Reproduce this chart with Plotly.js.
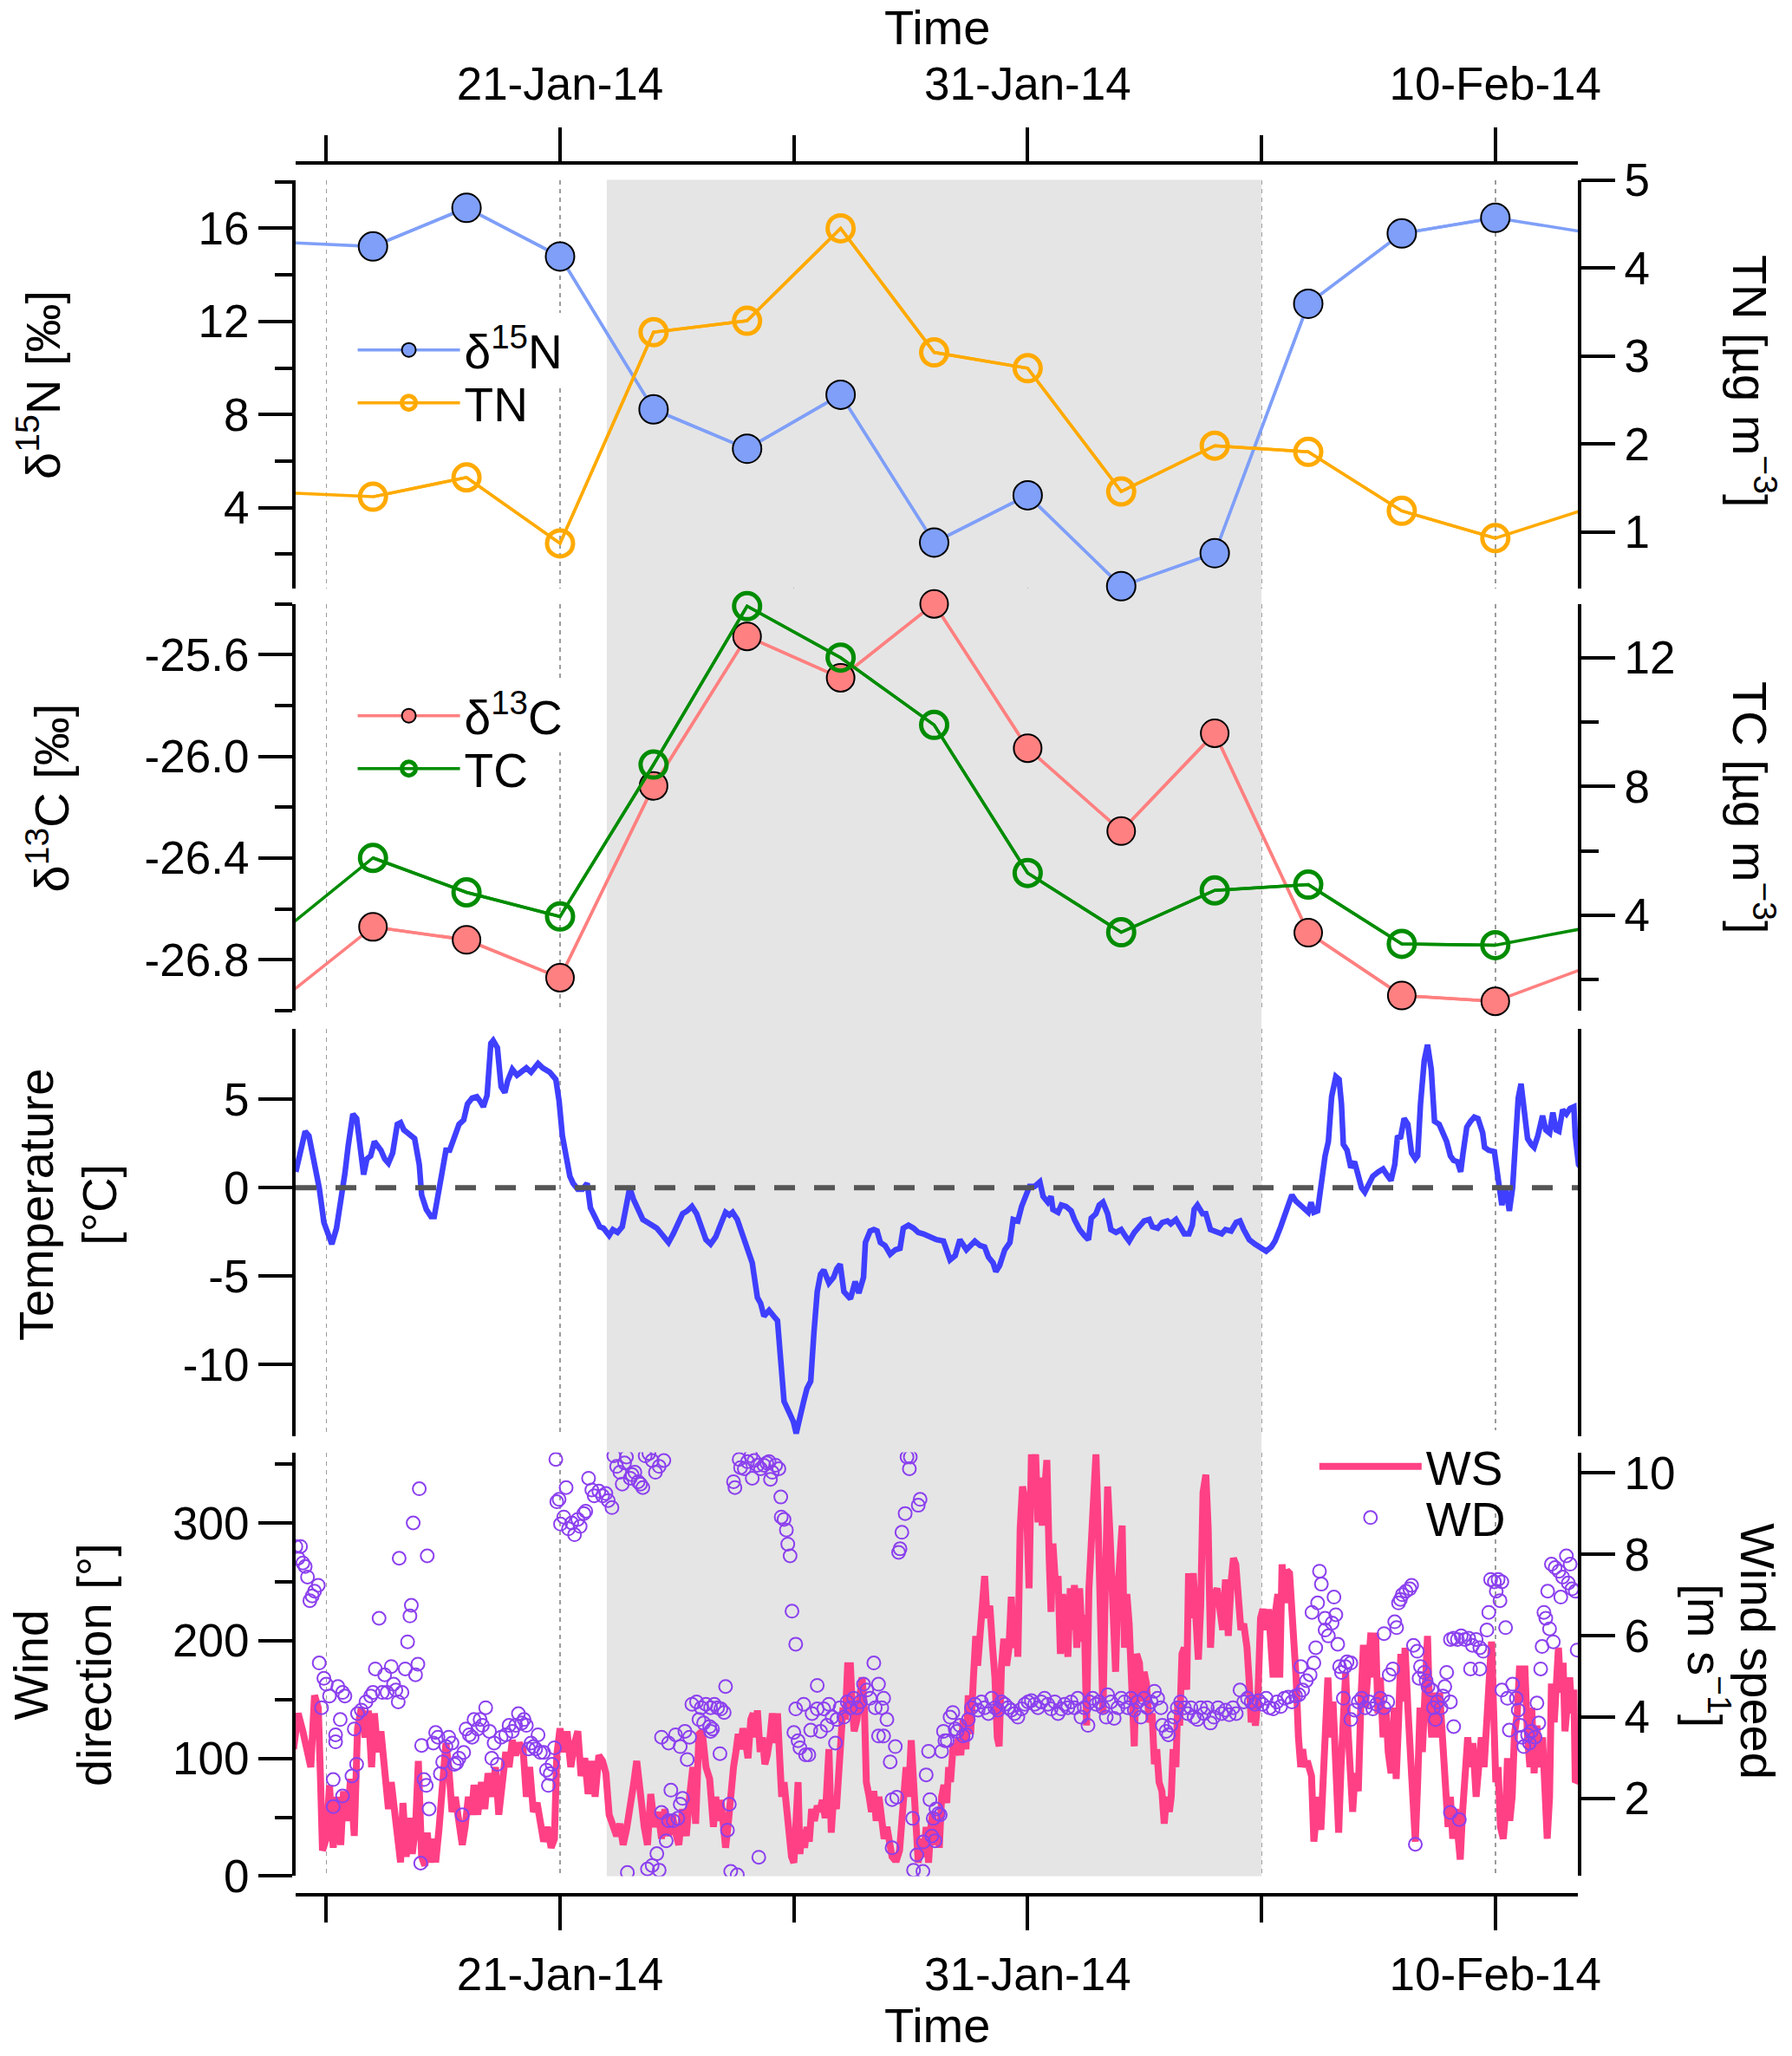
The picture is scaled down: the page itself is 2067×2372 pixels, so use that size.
<!DOCTYPE html>
<html><head><meta charset="utf-8">
<script src="https://cdn.plot.ly/plotly-3.0.1.min.js"></script>
<style>html,body{margin:0;padding:0;background:#fff}</style>
</head><body><div id="chart" style="width:2067px;height:2372px"></div>
<script>
// ---------------- DATA ----------------
const sampleDates = ['2014-01-15','2014-01-17','2014-01-19','2014-01-21','2014-01-23','2014-01-25','2014-01-27','2014-01-29','2014-01-31','2014-02-02','2014-02-04','2014-02-06','2014-02-08','2014-02-10','2014-02-12'];
const d15N = [15.40,15.22,16.88,14.79,8.22,6.53,8.85,2.50,4.53,0.62,2.04,12.76,15.78,16.45,15.81];
const TN   = [1.45,1.40,1.62,0.87,3.27,3.40,4.45,3.04,2.86,1.46,1.98,1.91,1.24,0.93,1.27];
const d13C = [-26.963,-26.671,-26.722,-26.871,-26.116,-25.528,-25.691,-25.40,-25.968,-26.294,-25.909,-26.694,-26.941,-26.964,-26.827];
const TC   = [3.43,5.78,4.71,3.96,8.68,13.6,12.0,9.91,5.31,3.47,4.77,4.95,3.11,3.07,3.62];

// [day of January 2014 (32 = 1 Feb), value]
const temperature = [[15.35,0.90],[15.55,3.19],[15.63,2.94],[15.75,1.47],[15.85,0],[15.95,-1.96],[16.05,-2.78],[16.12,-3.19],[16.22,-2.29],[16.30,-0.98],[16.40,0.82],[16.47,2.37],[16.57,4.17],[16.65,3.92],[16.73,2.29],[16.80,0.74],[16.87,1.63],[16.95,1.80],[17.03,2.61],[17.10,2.37],[17.17,2.12],[17.25,1.63],[17.33,1.39],[17.42,1.96],[17.52,3.59],[17.59,3.68],[17.66,3.27],[17.74,3.10],[17.82,2.94],[17.89,2.78],[17.99,1.31],[18.04,-0.41],[18.14,-1.23],[18.24,-1.63],[18.31,-1.63],[18.39,-0.33],[18.49,1.47],[18.56,2.12],[18.64,2.12],[18.74,2.78],[18.84,3.59],[18.94,3.84],[19.02,4.74],[19.12,5.07],[19.22,5.15],[19.29,4.90],[19.36,4.58],[19.44,5.23],[19.52,8.17],[19.57,8.33],[19.66,7.92],[19.74,5.72],[19.82,5.39],[19.88,6.05],[19.98,6.70],[20.08,6.37],[20.18,6.54],[20.28,6.78],[20.38,6.54],[20.53,7.03],[20.63,6.78],[20.78,6.54],[20.91,6.13],[20.98,4.90],[21.05,2.94],[21.13,1.63],[21.21,0.65],[21.28,0.25],[21.38,-0.08],[21.48,-0.08],[21.58,0.25],[21.65,-1.14],[21.76,-1.80],[21.85,-2.21],[21.93,-2.29],[22.05,-2.70],[22.13,-2.37],[22.23,-2.53],[22.33,-2.21],[22.42,-0.82],[22.49,0.00],[22.57,-0.65],[22.67,-1.31],[22.77,-1.80],[22.87,-1.96],[22.97,-2.12],[23.07,-2.29],[23.17,-2.61],[23.32,-3.10],[23.42,-2.61],[23.52,-1.96],[23.62,-1.47],[23.72,-1.31],[23.82,-1.06],[23.92,-1.47],[24.02,-2.29],[24.12,-2.94],[24.22,-3.19],[24.33,-2.78],[24.44,-2.04],[24.54,-1.39],[24.62,-1.55],[24.69,-1.39],[24.79,-1.80],[24.90,-2.61],[25.01,-3.51],[25.11,-4.25],[25.22,-6.21],[25.29,-6.54],[25.36,-7.27],[25.47,-6.94],[25.57,-7.27],[25.65,-7.52],[25.72,-9.80],[25.79,-12.09],[25.89,-12.66],[25.99,-13.24],[26.05,-13.9],[26.11,-13.07],[26.21,-12.09],[26.28,-11.36],[26.36,-10.95],[26.43,-8.17],[26.50,-5.88],[26.57,-4.90],[26.64,-4.66],[26.75,-5.39],[26.85,-5.07],[26.92,-4.58],[26.99,-4.33],[27.07,-5.88],[27.14,-6.05],[27.21,-6.29],[27.31,-5.31],[27.39,-5.96],[27.49,-5.07],[27.53,-3.10],[27.63,-2.45],[27.71,-2.37],[27.78,-2.45],[27.85,-3.10],[27.95,-3.27],[28.06,-3.76],[28.17,-3.51],[28.27,-3.43],[28.34,-2.29],[28.45,-2.12],[28.56,-2.29],[28.66,-2.53],[28.77,-2.61],[28.91,-2.78],[29.05,-2.94],[29.20,-3.02],[29.34,-4.08],[29.45,-3.84],[29.55,-2.94],[29.69,-3.51],[29.87,-3.02],[29.98,-3.27],[30.08,-3.35],[30.16,-3.92],[30.26,-4.25],[30.32,-4.74],[30.40,-4.41],[30.51,-3.51],[30.62,-3.10],[30.69,-1.80],[30.79,-1.88],[30.87,-1.06],[30.94,-0.57],[31.04,0.08],[31.15,0.08],[31.26,0.33],[31.33,-0.49],[31.43,-0.82],[31.50,-0.49],[31.54,-1.23],[31.65,-1.39],[31.72,-0.98],[31.82,-1.06],[31.93,-1.31],[32.00,-1.80],[32.11,-2.37],[32.21,-2.70],[32.30,-2.94],[32.36,-1.72],[32.46,-1.47],[32.53,-0.98],[32.61,-0.82],[32.71,-1.47],[32.78,-2.37],[32.89,-2.53],[33.00,-2.37],[33.10,-2.78],[33.17,-3.02],[33.28,-2.53],[33.39,-2.12],[33.49,-1.88],[33.60,-1.80],[33.67,-2.21],[33.78,-2.29],[33.88,-1.96],[33.99,-1.88],[34.06,-2.04],[34.17,-1.80],[34.27,-2.21],[34.35,-2.61],[34.45,-2.61],[34.52,-2.12],[34.56,-1.23],[34.63,-0.98],[34.74,-1.47],[34.81,-1.47],[34.91,-2.37],[35.15,-2.61],[35.23,-2.37],[35.35,-2.45],[35.46,-1.96],[35.54,-1.88],[35.62,-2.37],[35.74,-2.94],[35.86,-3.19],[35.98,-3.43],[36.10,-3.59],[36.21,-3.35],[36.29,-3.02],[36.41,-2.21],[36.53,-1.31],[36.65,-0.41],[36.73,-0.74],[36.88,-1.14],[37.00,-1.39],[37.06,-0.82],[37.12,-1.39],[37.20,-1.31],[37.28,0.33],[37.36,1.80],[37.43,2.61],[37.50,5.15],[37.59,6.29],[37.66,6.13],[37.71,4.74],[37.75,2.45],[37.83,2.12],[37.91,1.14],[37.99,1.47],[38.07,0.82],[38.14,0.00],[38.21,-0.25],[38.29,0.16],[38.38,0.65],[38.50,0.90],[38.60,1.06],[38.68,0.74],[38.77,0.41],[38.85,1.31],[38.91,2.94],[38.97,2.78],[39.05,3.92],[39.13,3.59],[39.21,1.96],[39.29,1.63],[39.34,1.80],[39.40,4.74],[39.48,7.19],[39.55,8.09],[39.63,6.70],[39.70,3.76],[39.80,3.59],[39.88,3.10],[39.96,2.61],[40.04,1.80],[40.11,1.55],[40.19,1.47],[40.26,0.90],[40.31,1.96],[40.39,3.43],[40.47,3.76],[40.55,4.00],[40.63,3.92],[40.73,3.10],[40.77,2.29],[40.86,2.12],[40.98,2.04],[41.04,0.90],[41.10,-0.33],[41.14,-0.98],[41.22,0.00],[41.30,-1.31],[41.37,0.00],[41.44,2.94],[41.49,5.07],[41.55,5.88],[41.61,4.58],[41.69,2.78],[41.77,2.45],[41.83,2.29],[41.91,2.94],[42.01,4.08],[42.08,3.27],[42.16,3.10],[42.23,4.25],[42.30,3.27],[42.36,3.19],[42.44,4.41],[42.52,4.17],[42.60,4.49],[42.68,4.58],[42.71,2.94],[42.78,1.31],[42.83,1.14]];

const windSpeed = [[15.30,3.21],[15.40,4.09],[15.50,3.65],[15.60,3.14],[15.67,2.77],[15.75,4.53],[15.83,4.23],[15.88,2.40],[15.92,0.72],[16.00,1.01],[16.07,2.33],[16.15,0.79],[16.23,2.04],[16.31,0.86],[16.37,2.18],[16.45,1.45],[16.52,2.48],[16.60,1.08],[16.67,3.72],[16.75,4.23],[16.83,3.50],[16.90,4.16],[16.97,2.77],[17.03,4.09],[17.10,3.14],[17.17,3.65],[17.25,2.77],[17.33,1.74],[17.39,2.40],[17.46,1.67],[17.54,1.08],[17.59,0.43],[17.64,1.89],[17.71,0.57],[17.78,1.52],[17.84,0.64],[17.91,1.30],[17.97,2.92],[18.04,0.57],[18.11,0.35],[18.16,1.16],[18.22,0.43],[18.29,1.01],[18.34,0.43],[18.41,1.23],[18.49,2.55],[18.56,3.36],[18.62,2.77],[18.69,1.67],[18.76,2.04],[18.84,1.30],[18.91,0.86],[18.97,1.30],[19.04,2.04],[19.11,1.60],[19.16,2.33],[19.24,1.60],[19.32,2.40],[19.39,1.74],[19.46,2.62],[19.54,2.04],[19.62,2.77],[19.69,1.60],[19.76,2.40],[19.84,3.14],[19.91,2.77],[19.98,3.43],[20.05,3.06],[20.13,3.36],[20.21,3.21],[20.28,2.04],[20.35,2.77],[20.43,1.67],[20.51,1.89],[20.58,1.30],[20.65,0.94],[20.73,1.30],[20.81,0.79],[20.88,1.01],[20.93,3.06],[21.00,3.72],[21.08,3.14],[21.15,3.65],[21.23,2.77],[21.31,3.36],[21.38,3.65],[21.45,2.55],[21.53,2.99],[21.60,2.11],[21.68,2.92],[21.75,2.04],[21.83,3.06],[21.91,2.92],[21.98,2.62],[22.05,1.60],[22.13,1.38],[22.21,1.08],[22.28,1.38],[22.35,0.86],[22.42,1.23],[22.49,1.89],[22.57,2.33],[22.64,2.92],[22.72,2.04],[22.80,1.30],[22.87,0.86],[22.94,2.11],[23.02,1.30],[23.10,1.67],[23.17,1.01],[23.24,1.74],[23.32,1.08],[23.40,1.60],[23.47,1.16],[23.54,0.86],[23.62,1.74],[23.70,1.08],[23.77,2.04],[23.84,2.77],[23.90,1.38],[23.97,3.58],[24.04,3.65],[24.12,2.77],[24.20,2.48],[24.28,1.30],[24.33,2.04],[24.38,1.45],[24.44,1.96],[24.49,1.30],[24.54,0.79],[24.59,1.30],[24.65,2.18],[24.71,2.77],[24.76,3.14],[24.81,3.58],[24.86,3.21],[24.91,3.72],[24.97,3.36],[25.02,2.99],[25.08,3.94],[25.13,4.09],[25.18,3.50],[25.22,4.16],[25.28,3.14],[25.33,3.50],[25.38,2.84],[25.43,3.06],[25.49,3.50],[25.54,4.09],[25.59,3.36],[25.65,4.09],[25.70,2.92],[25.74,2.04],[25.79,2.40],[25.84,1.67],[25.90,1.23],[25.95,0.57],[26.00,0.42],[26.04,1.30],[26.09,2.40],[26.13,0.64],[26.18,1.23],[26.23,0.79],[26.28,1.30],[26.33,0.94],[26.38,1.74],[26.44,1.45],[26.50,1.82],[26.55,1.67],[26.61,1.96],[26.67,1.52],[26.71,2.11],[26.75,3.21],[26.80,1.16],[26.85,2.04],[26.91,1.74],[26.96,3.14],[27.01,3.50],[27.05,4.23],[27.10,3.94],[27.15,5.26],[27.21,5.26],[27.25,4.23],[27.29,3.65],[27.35,3.94],[27.41,4.67],[27.46,4.97],[27.51,4.16],[27.55,2.40],[27.61,2.04],[27.66,1.67],[27.71,2.18],[27.76,1.45],[27.82,2.04],[27.88,1.30],[27.93,1.01],[27.99,1.30],[28.05,0.94],[28.10,0.57],[28.15,0.50],[28.20,0.50],[28.26,0.72],[28.31,1.30],[28.36,2.04],[28.40,2.77],[28.45,2.04],[28.51,3.43],[28.56,2.40],[28.61,1.30],[28.66,0.42],[28.71,1.01],[28.77,0.57],[28.83,1.30],[28.88,0.42],[28.93,1.30],[28.97,1.67],[29.02,0.86],[29.07,1.30],[29.11,0.79],[29.16,2.04],[29.21,2.33],[29.27,1.89],[29.31,2.77],[29.35,2.40],[29.41,3.36],[29.47,3.06],[29.52,3.50],[29.57,3.06],[29.62,3.94],[29.68,3.21],[29.73,4.53],[29.78,3.58],[29.84,4.97],[29.89,5.99],[29.93,5.26],[29.98,5.85],[30.03,6.73],[30.08,7.46],[30.13,6.43],[30.19,6.73],[30.25,5.70],[30.30,4.97],[30.35,3.50],[30.39,3.28],[30.44,5.26],[30.49,5.92],[30.55,5.26],[30.60,5.70],[30.65,6.95],[30.70,5.70],[30.76,6.43],[30.79,5.48],[30.84,8.63],[30.89,9.66],[30.94,9.36],[30.99,8.63],[31.03,7.16],[31.08,10.45],[31.11,9.73],[31.17,10.45],[31.22,8.78],[31.27,9.88],[31.31,8.70],[31.36,9.73],[31.41,10.31],[31.46,7.90],[31.50,6.58],[31.54,8.26],[31.60,7.16],[31.65,7.46],[31.70,5.55],[31.75,7.02],[31.81,6.29],[31.86,5.48],[31.91,7.16],[31.95,6.14],[32.00,7.24],[32.05,5.70],[32.11,7.16],[32.17,5.85],[32.21,6.51],[32.26,3.79],[32.31,7.16],[32.36,8.04],[32.41,9.36],[32.46,10.45],[32.51,8.63],[32.55,6.43],[32.61,4.09],[32.66,7.16],[32.71,9.66],[32.76,8.48],[32.82,6.43],[32.88,5.11],[32.93,7.16],[32.97,8.19],[33.02,8.70],[33.07,5.70],[33.12,7.02],[33.17,6.29],[33.23,4.97],[33.28,3.28],[33.33,5.55],[33.39,5.33],[33.44,4.38],[33.49,5.11],[33.54,4.82],[33.60,3.87],[33.66,4.09],[33.71,2.84],[33.76,3.21],[33.81,2.40],[33.87,2.18],[33.92,1.38],[33.97,2.04],[34.03,1.67],[34.07,2.04],[34.11,3.21],[34.17,2.77],[34.21,4.38],[34.25,3.79],[34.30,5.55],[34.35,5.70],[34.40,4.67],[34.44,7.53],[34.49,6.43],[34.54,7.53],[34.59,6.43],[34.65,5.41],[34.70,6.73],[34.75,9.51],[34.81,9.95],[34.86,8.63],[34.91,5.70],[34.96,6.87],[35.05,7.16],[35.11,6.73],[35.17,6.14],[35.23,7.38],[35.29,5.99],[35.35,7.31],[35.40,7.90],[35.45,7.75],[35.50,6.73],[35.56,6.14],[35.62,6.29],[35.69,5.70],[35.74,4.82],[35.78,3.87],[35.83,4.23],[35.87,3.79],[35.92,4.38],[35.98,6.43],[36.03,6.65],[36.10,6.14],[36.15,6.65],[36.21,5.70],[36.25,4.97],[36.30,6.58],[36.35,7.02],[36.39,4.97],[36.44,7.75],[36.49,6.80],[36.54,7.60],[36.60,7.53],[36.65,6.73],[36.69,5.85],[36.74,4.97],[36.79,3.50],[36.84,2.77],[36.88,3.21],[36.93,2.77],[36.98,2.92],[37.02,2.77],[37.07,2.55],[37.12,0.94],[37.17,1.67],[37.21,2.04],[37.27,1.23],[37.32,2.77],[37.37,3.72],[37.42,4.97],[37.47,3.50],[37.53,4.38],[37.59,2.77],[37.65,1.16],[37.70,2.77],[37.75,3.79],[37.80,5.11],[37.84,3.87],[37.89,2.40],[37.95,1.67],[38.00,2.62],[38.07,2.18],[38.13,4.53],[38.18,5.77],[38.22,4.23],[38.29,5.70],[38.34,6.07],[38.38,4.97],[38.44,6.07],[38.49,4.09],[38.54,4.97],[38.60,3.50],[38.66,4.23],[38.71,3.14],[38.77,2.62],[38.84,4.23],[38.88,2.48],[38.93,3.87],[38.98,5.55],[39.03,4.38],[39.07,5.70],[39.13,4.23],[39.18,3.21],[39.23,2.18],[39.29,0.94],[39.34,2.40],[39.39,4.23],[39.44,3.14],[39.50,4.82],[39.55,5.99],[39.59,4.38],[39.64,3.50],[39.70,4.60],[39.76,3.50],[39.81,4.60],[39.88,3.36],[39.94,2.77],[39.99,1.30],[40.04,2.04],[40.09,1.01],[40.15,1.74],[40.19,1.16],[40.25,0.50],[40.30,1.67],[40.35,2.77],[40.41,3.50],[40.47,2.77],[40.52,3.36],[40.59,2.04],[40.65,2.77],[40.70,3.50],[40.76,2.77],[40.82,4.38],[40.88,5.11],[40.92,5.85],[40.97,4.23],[41.01,2.40],[41.06,2.77],[41.11,1.30],[41.17,1.01],[41.22,1.67],[41.26,2.99],[41.31,1.45],[41.36,2.04],[41.41,3.58],[41.47,4.09],[41.52,5.26],[41.57,4.38],[41.63,5.26],[41.69,3.50],[41.74,2.77],[41.78,4.23],[41.83,2.62],[41.89,3.79],[41.94,2.77],[42.01,3.50],[42.05,2.04],[42.11,1.01],[42.16,2.04],[42.20,4.82],[42.26,3.87],[42.30,4.97],[42.35,5.70],[42.40,4.60],[42.45,5.33],[42.49,3.65],[42.54,4.23],[42.59,4.97],[42.64,4.09],[42.68,4.67],[42.71,2.40],[42.75,2.48],[42.79,2.48],[42.85,2.50]];

const windDir = [[15.35,280],[15.45,280],[15.40,270],[15.50,266],[15.55,263],[15.60,254],[15.70,238],[15.65,234],[15.75,242],[15.83,247],[15.85,181],[15.90,143],[15.95,168],[16.00,163],[16.07,153],[16.15,82],[16.20,120],[16.25,161],[16.30,133],[16.35,156],[16.40,153],[16.15,59],[16.35,68],[16.20,114],[16.55,85],[16.60,125],[16.65,95],[16.67,138],[16.75,141],[16.85,148],[16.95,153],[17.00,156],[17.05,176],[17.13,219],[17.20,156],[17.25,171],[17.30,156],[17.39,178],[17.44,163],[17.49,158],[17.54,148],[17.56,270],[17.62,156],[17.69,176],[17.74,199],[17.79,221],[17.82,230],[17.86,300],[17.91,171],[17.96,180],[17.99,329],[18.04,111],[18.09,82],[18.14,77],[18.16,272],[18.20,57],[18.02,11],[18.29,113],[18.34,122],[18.39,118],[18.44,87],[18.49,97],[18.56,110],[18.62,118],[18.69,113],[18.74,95],[18.79,96],[18.84,100],[18.91,52],[18.94,105],[18.99,125],[19.06,120],[19.12,118],[19.16,133],[19.24,125],[19.29,133],[19.34,128],[19.41,143],[19.49,123],[19.54,100],[19.59,113],[19.66,95],[19.74,118],[19.84,120],[19.91,128],[19.98,123],[20.05,128],[20.11,138],[20.18,130],[20.23,133],[20.28,128],[20.33,108],[20.38,113],[20.43,110],[20.48,108],[20.53,120],[20.58,105],[20.65,105],[20.71,90],[20.75,77],[20.79,87],[20.83,95],[20.88,109],[20.91,354],[20.93,318],[20.98,320],[21.01,299],[21.08,305],[21.13,330],[21.18,295],[21.25,300],[21.31,290],[21.38,303],[21.43,297],[21.51,308],[21.55,310],[21.61,338],[21.68,328],[21.73,323],[21.83,327],[21.91,323],[21.98,325],[22.03,319],[22.11,313],[22.15,357],[22.21,348],[22.28,343],[22.33,333],[22.38,351],[22.42,356],[22.50,338],[22.54,341],[22.60,343],[22.67,335],[22.72,333],[22.77,330],[22.82,357],[22.90,359],[22.97,353],[23.04,343],[23.12,348],[23.22,353],[22.44,3],[22.87,6],[22.97,9],[23.07,19],[23.12,5],[23.27,30],[23.17,54],[23.32,47],[23.37,73],[23.42,47],[23.52,49],[23.57,61],[23.62,66],[23.17,118],[23.32,113],[23.47,120],[23.57,110],[23.67,123],[23.72,99],[23.77,118],[23.82,146],[23.92,148],[23.97,133],[24.02,143],[24.07,130],[24.12,146],[24.20,127],[24.22,143],[24.30,146],[24.37,143],[24.44,142],[24.51,139],[24.26,125],[24.22,123],[24.42,104],[24.54,161],[24.62,61],[24.58,39],[24.65,4],[24.79,1],[25.25,16],[24.71,335],[24.74,330],[24.83,354],[24.86,347],[24.94,346],[25.01,352],[25.08,357],[25.11,338],[25.15,353],[25.22,349],[25.29,346],[25.36,349],[25.42,351],[25.47,352],[25.50,337],[25.54,343],[25.61,349],[25.68,346],[25.72,322],[25.73,305],[25.79,303],[25.84,294],[25.87,282],[25.92,272],[25.96,225],[26.04,197],[26.04,142],[26.00,122],[26.09,115],[26.13,109],[26.21,146],[26.25,103],[26.32,103],[26.36,124],[26.39,138],[26.50,162],[26.50,142],[26.57,123],[26.64,142],[26.71,128],[26.75,146],[26.82,135],[26.89,113],[26.92,133],[26.99,143],[27.07,135],[27.14,148],[27.21,143],[27.28,151],[27.35,143],[27.42,148],[27.49,163],[27.56,158],[27.63,151],[27.71,181],[27.74,143],[27.81,163],[27.88,143],[27.92,151],[27.99,133],[27.81,119],[27.92,119],[28.06,97],[28.17,110],[28.10,65],[28.20,67],[28.10,24],[28.24,275],[28.27,278],[28.31,292],[28.38,308],[28.42,356],[28.47,346],[28.49,356],[28.66,315],[28.70,320],[28.54,49],[28.56,5],[28.63,18],[28.76,4],[28.77,29],[28.83,86],[28.88,106],[28.91,65],[28.95,34],[28.98,49],[29.04,57],[29.09,53],[29.13,52],[29.02,30],[29.16,106],[29.20,123],[29.23,115],[29.28,115],[29.34,135],[29.40,139],[29.45,125],[29.49,123],[29.55,128],[29.62,119],[29.69,120],[29.73,133],[29.80,143],[29.87,146],[29.94,141],[30.01,148],[30.08,143],[30.16,138],[30.23,151],[30.30,143],[30.37,141],[30.44,148],[30.51,146],[30.58,143],[30.65,141],[30.72,138],[30.79,135],[30.87,142],[30.94,146],[31.01,148],[31.08,149],[31.15,146],[31.22,143],[31.29,148],[31.36,151],[31.43,146],[31.50,142],[31.58,148],[31.65,138],[31.72,142],[31.79,146],[31.86,143],[31.93,148],[32.00,143],[32.07,151],[32.14,135],[32.21,143],[32.29,128],[32.32,148],[32.39,151],[32.46,146],[32.53,148],[32.61,143],[32.68,135],[32.71,154],[32.78,148],[32.85,134],[32.93,143],[33.00,151],[33.07,148],[33.14,143],[33.21,151],[33.28,141],[33.35,148],[33.42,135],[33.49,151],[33.56,143],[33.64,148],[33.71,157],[33.78,151],[33.85,143],[33.88,128],[33.96,123],[34.01,120],[34.06,128],[34.13,135],[34.20,143],[34.27,148],[34.35,143],[34.42,138],[34.49,143],[34.56,135],[34.63,133],[34.70,143],[34.77,138],[34.84,143],[34.91,130],[34.98,135],[35.07,143],[35.15,138],[35.23,141],[35.31,137],[35.39,143],[35.46,138],[35.54,158],[35.62,148],[35.70,151],[35.78,148],[35.86,146],[35.94,149],[36.02,146],[36.10,151],[36.17,143],[36.25,142],[36.33,148],[36.41,144],[36.49,151],[36.57,152],[36.65,148],[36.73,153],[36.80,154],[36.88,158],[36.84,178],[36.96,166],[37.04,171],[37.12,181],[37.16,194],[37.08,224],[37.20,232],[37.24,259],[37.28,248],[37.36,219],[37.36,209],[37.43,204],[37.51,215],[37.55,237],[37.59,222],[37.63,197],[37.67,178],[37.75,151],[37.71,173],[37.79,178],[37.83,182],[37.91,181],[37.91,133],[37.99,141],[38.07,148],[38.14,151],[38.22,143],[38.30,148],[38.38,142],[38.46,146],[38.54,151],[38.62,143],[38.70,148],[38.62,206],[38.73,171],[38.81,176],[38.85,216],[38.89,211],[38.93,232],[38.97,235],[39.01,239],[39.09,242],[39.17,244],[39.21,247],[39.25,196],[39.33,191],[39.37,168],[39.40,178],[39.48,173],[39.52,166],[39.56,161],[39.64,158],[39.68,143],[39.72,133],[39.76,148],[39.84,143],[39.88,153],[39.92,161],[39.96,173],[40.04,148],[40.11,127],[40.04,201],[40.11,202],[40.19,201],[40.27,204],[40.35,201],[40.43,202],[40.51,196],[40.59,201],[40.67,194],[40.74,191],[40.82,209],[40.86,224],[40.90,252],[40.98,250],[41.06,252],[41.14,250],[41.02,242],[41.10,234],[41.22,211],[40.47,176],[40.67,176],[40.04,54],[40.23,48],[39.29,27],[41.14,158],[41.26,151],[41.30,124],[41.37,163],[41.45,151],[41.49,141],[41.53,128],[41.57,118],[41.61,110],[41.69,120],[41.73,113],[41.77,123],[41.85,118],[41.89,147],[41.93,130],[41.97,176],[42.00,195],[42.04,224],[42.08,219],[42.16,210],[42.24,199],[42.20,265],[42.28,262],[42.36,259],[42.44,254],[42.52,272],[42.56,249],[42.60,265],[42.64,244],[42.71,242],[42.75,192],[42.12,242],[42.40,237]];

const shadeStart = '2014-01-22';
const shadeEnd = '2014-02-05';
const zeroLevel = 0;
const d13CTicks = [-26.8,-26.4,-26.0,-25.6];
const d13CTickText = ['-26.8','-26.4','-26.0','-25.6'];
const d13CMinor = [-27.0,-26.6,-26.2,-25.8,-25.4];
const tempTicks = [-10,-5,0,5];
const tempTickText = ['-10','-5','0','5'];

// axis ranges
const d15NRange = [0.54,18.08], TNRange = [0.362,5];
const d13CRange = [-27.0,-25.4], TCRange = [1.04,13.67];
const tempRange = [-14.05,9.0];
const wsRange = [0.094,10.5], wdRange = [0,360];

// ---------------- BUILD ----------------
const DAY = 86400000;
const T0 = Date.UTC(2013, 11, 31);
function dayToDate(d){ return new Date(T0 + d*DAY).toISOString().replace('T',' ').slice(0,19); }
const xRange = ['2014-01-15 08:18', '2014-02-11 18:22'];
const r0 = Date.parse(xRange[0].replace(' ','T')+':00Z'), r1 = Date.parse(xRange[1].replace(' ','T')+':00Z');
const inIdx = sampleDates.map((d,i)=>i).filter(i=>{const t=Date.parse(sampleDates[i]+'T00:00:00Z'); return t>=r0 && t<=r1;});
const pick = arr => inIdx.map(i=>arr[i]);

const FONT = 'Liberation Sans, Arial, Helvetica, sans-serif';
const BLUE='#7f9ff8', ORANGE='#ffaa00', SALMON='#ff8080', GREEN='#008c00', TBLUE='#3f3fff', PINK='#ff4085', PURPLE='#8b40ee';

const D1=[0.7545,0.9902], D2=[0.5106,0.7454], D3=[0.2649,0.5001], D4=[0.0108,0.2555];

const traces = [
  // panel 1
  {x:sampleDates, y:d15N, xaxis:'x', yaxis:'y6', mode:'lines', line:{color:BLUE,width:3.5}, showlegend:false, hoverinfo:'skip'},
  {x:sampleDates, y:TN, xaxis:'x', yaxis:'y7', mode:'lines', line:{color:ORANGE,width:3.5}, showlegend:false, hoverinfo:'skip'},
  {x:pick(sampleDates), y:pick(d15N), xaxis:'x', yaxis:'y6', mode:'lines+markers', name:'δ<sup>15</sup>N', legend:'legend',
   line:{color:BLUE,width:3.5}, marker:{size:33,color:BLUE,line:{color:'#000',width:2}}, cliponaxis:false},
  {x:pick(sampleDates), y:pick(TN), xaxis:'x', yaxis:'y7', mode:'lines+markers', name:'TN', legend:'legend2',
   line:{color:ORANGE,width:3.5}, marker:{symbol:'circle-open',size:30,color:ORANGE,line:{color:ORANGE,width:5}}, cliponaxis:false},
  // panel 2
  {x:sampleDates, y:d13C, xaxis:'x', yaxis:'y4', mode:'lines', line:{color:SALMON,width:3.5}, showlegend:false, hoverinfo:'skip'},
  {x:sampleDates, y:TC, xaxis:'x', yaxis:'y5', mode:'lines', line:{color:GREEN,width:3.5}, showlegend:false, hoverinfo:'skip'},
  {x:pick(sampleDates), y:pick(d13C), xaxis:'x', yaxis:'y4', mode:'lines+markers', name:'δ<sup>13</sup>C', legend:'legend3',
   line:{color:SALMON,width:3.5}, marker:{size:32,color:SALMON,line:{color:'#000',width:2}}, cliponaxis:false},
  {x:pick(sampleDates), y:pick(TC), xaxis:'x', yaxis:'y5', mode:'lines+markers', name:'TC', legend:'legend4',
   line:{color:GREEN,width:3.5}, marker:{symbol:'circle-open',size:30,color:GREEN,line:{color:GREEN,width:5}}, cliponaxis:false},
  // panel 3
  {x:temperature.map(p=>dayToDate(p[0])), y:temperature.map(p=>p[1]), xaxis:'x', yaxis:'y3', mode:'lines',
   line:{color:TBLUE,width:6.5}, showlegend:false},
  // panel 4
  {x:windSpeed.map(p=>dayToDate(p[0])), y:windSpeed.map(p=>p[1]), xaxis:'x', yaxis:'y', mode:'lines', name:'WS', legend:'legend5',
   line:{color:PINK,width:8}},
  {x:windDir.map(p=>dayToDate(p[0])), y:windDir.map(p=>p[1]), xaxis:'x', yaxis:'y2', mode:'markers', name:'WD', legend:'legend6',
   marker:{symbol:'circle-open',size:15,color:PURPLE,line:{color:PURPLE,width:2}}},
  // top axis carrier
  {x:[xRange[0]], y:[null], xaxis:'x2', yaxis:'y6', mode:'markers', showlegend:false, hoverinfo:'skip'}
];

const GRID = '#9c9c9c';
const TICKFONT = {size:53,color:'#000',family:FONT};
const xCommon = {
  type:'date', range:xRange, domain:[0,1], anchor:'free',
  showline:true, linecolor:'#000', linewidth:4, ticks:'outside', ticklen:39, tickwidth:4, tickcolor:'#000',
  tick0:'2014-01-21', dtick:10*DAY, tickformat:'%d-%b-%y', tickfont:TICKFONT,
  zeroline:false, fixedrange:true
};
const yCommon = {
  showline:true, linecolor:'#000', linewidth:4, ticks:'outside', ticklen:39, tickwidth:4, tickcolor:'#000',
  tickfont:TICKFONT, showgrid:false, zeroline:false, anchor:'x', fixedrange:true
};
const minorY = (o)=>Object.assign({ticks:'outside', ticklen:20, tickwidth:4, tickcolor:'#000', showgrid:false}, o);
const LEGFONT = {size:55,family:FONT,color:'#000'};
const leg = (x,y,bg)=>({x:x, y:y, xanchor:'left', yanchor:'middle', bgcolor:bg, borderwidth:0, font:LEGFONT, itemwidth:118, tracegroupgap:0});
const TITLEFONT = {size:56};

const layout = {
  width:2067, height:2372, autosize:false,
  margin:{l:341, r:247, t:188, b:186, pad:0},
  paper_bgcolor:'#fff', plot_bgcolor:'rgba(0,0,0,0)',
  font:{family:FONT, color:'#000', size:50},
  xaxis:Object.assign({}, xCommon, {position:0, side:'bottom', ticklabelstandoff:5, showgrid:true, gridcolor:GRID, gridwidth:1.5, griddash:'5px,5px',
    minor:{tick0:'2014-01-16', dtick:5*DAY, ticks:'outside', ticklen:30, tickwidth:4, tickcolor:'#000', showgrid:true, gridcolor:GRID, gridwidth:1.5, griddash:'5px,5px'}}),
  xaxis2:Object.assign({}, xCommon, {position:1, side:'top', overlaying:'x', matches:'x', showgrid:false, ticklabelstandoff:11,
    minor:{tick0:'2014-01-16', dtick:5*DAY, ticks:'outside', ticklen:30, tickwidth:4, tickcolor:'#000', showgrid:false}}),
  // panel 1
  yaxis6:Object.assign({}, yCommon, {domain:D1, range:d15NRange, tick0:0, dtick:4, side:'left', minor:minorY({tick0:0,dtick:2})}),
  yaxis7:Object.assign({}, yCommon, {range:TNRange, tick0:0, dtick:1, side:'right', overlaying:'y6'}),
  // panel 2
  yaxis4:Object.assign({}, yCommon, {domain:D2, range:d13CRange, tickmode:'array', tickvals:d13CTicks, ticktext:d13CTickText, side:'left',
    minor:minorY({tickmode:'array', tickvals:d13CMinor})}),
  yaxis5:Object.assign({}, yCommon, {range:TCRange, tick0:0, dtick:4, side:'right', overlaying:'y4', minor:minorY({tick0:0,dtick:2})}),
  // panel 3
  yaxis3:Object.assign({}, yCommon, {domain:D3, range:tempRange, tickmode:'array', tickvals:tempTicks, ticktext:tempTickText, side:'left', mirror:true}),
  // panel 4
  yaxis:Object.assign({}, yCommon, {domain:D4, range:wsRange, tick0:0, dtick:2, side:'right'}),
  yaxis2:Object.assign({}, yCommon, {range:wdRange, tick0:0, dtick:100, side:'left', overlaying:'y', minor:minorY({tick0:0,dtick:50})}),
  legend:leg(0.045, 0.8919, '#fff'),
  legend2:leg(0.045, 0.8614, 'rgba(0,0,0,0)'),
  legend3:leg(0.045, 0.6807, '#fff'),
  legend4:leg(0.045, 0.6502, 'rgba(0,0,0,0)'),
  legend5:leg(0.795, 0.2472, '#fff'),
  legend6:leg(0.795, 0.2177, 'rgba(0,0,0,0)'),
  shapes:[
    {type:'rect', xref:'x', yref:'paper', x0:shadeStart, x1:shadeEnd, y0:D4[0], y1:D1[1], fillcolor:'#e5e5e5', line:{width:0}, layer:'below'},
    {type:'rect', xref:'x', yref:'y', x0:shadeStart, x1:shadeEnd, y0:wsRange[0], y1:wsRange[1], fillcolor:'#e5e5e5', line:{width:0}, layer:'between'},
    {type:'rect', xref:'x', yref:'y3', x0:shadeStart, x1:shadeEnd, y0:tempRange[0], y1:tempRange[1], fillcolor:'#e5e5e5', line:{width:0}, layer:'between'},
    {type:'rect', xref:'x', yref:'y4', x0:shadeStart, x1:shadeEnd, y0:d13CRange[0], y1:d13CRange[1], fillcolor:'#e5e5e5', line:{width:0}, layer:'between'},
    {type:'rect', xref:'x', yref:'y6', x0:shadeStart, x1:shadeEnd, y0:d15NRange[0], y1:d15NRange[1], fillcolor:'#e5e5e5', line:{width:0}, layer:'between'},
    {type:'line', xref:'x', x0:xRange[0], x1:xRange[1], yref:'y3', y0:zeroLevel, y1:zeroLevel, line:{color:'#555555', width:6, dash:'24px,22px'}, layer:'above'}
  ],
  annotations:[
    {text:'Time', xref:'paper', yref:'paper', x:0.5, y:1.0781, showarrow:false, font:TITLEFONT, xanchor:'center', yanchor:'middle'},
    {text:'Time', xref:'paper', yref:'paper', x:0.5, y:-0.0751, showarrow:false, font:TITLEFONT, xanchor:'center', yanchor:'middle'},
    {text:'δ<sup>15</sup>N [‰]', xref:'paper', yref:'paper', x:-0.1995, y:0.8719, textangle:-90, showarrow:false, font:TITLEFONT, xanchor:'center', yanchor:'middle'},
    {text:'δ<sup>13</sup>C [‰]', xref:'paper', yref:'paper', x:-0.1927, y:0.6334, textangle:-90, showarrow:false, font:TITLEFONT, xanchor:'center', yanchor:'middle'},
    {text:'Temperature<br>[°C]', xref:'paper', yref:'paper', x:-0.1778, y:0.3984, textangle:-90, showarrow:false, font:TITLEFONT, xanchor:'center', yanchor:'middle'},
    {text:'Wind<br>direction [°]', xref:'paper', yref:'paper', x:-0.1819, y:0.1331, textangle:-90, showarrow:false, font:TITLEFONT, xanchor:'center', yanchor:'middle'},
    {text:'TN [µg m<sup>−3</sup>]', xref:'paper', yref:'paper', x:1.1366, y:0.8739, textangle:90, showarrow:false, font:TITLEFONT, xanchor:'center', yanchor:'middle'},
    {text:'TC [µg m<sup>−3</sup>]', xref:'paper', yref:'paper', x:1.1366, y:0.6276, textangle:90, showarrow:false, font:TITLEFONT, xanchor:'center', yanchor:'middle'},
    {text:'Wind speed', xref:'paper', yref:'paper', x:1.1406, y:0.1406, textangle:90, showarrow:false, font:TITLEFONT, xanchor:'center', yanchor:'middle'},
    {text:'[m s<sup>−1</sup>]', xref:'paper', yref:'paper', x:1.1014, y:0.1380, textangle:90, showarrow:false, font:TITLEFONT, xanchor:'center', yanchor:'middle'}
  ],
  showlegend:true
};

Plotly.newPlot('chart', traces, layout, {staticPlot:true, displayModeBar:false});
</script></body></html>
